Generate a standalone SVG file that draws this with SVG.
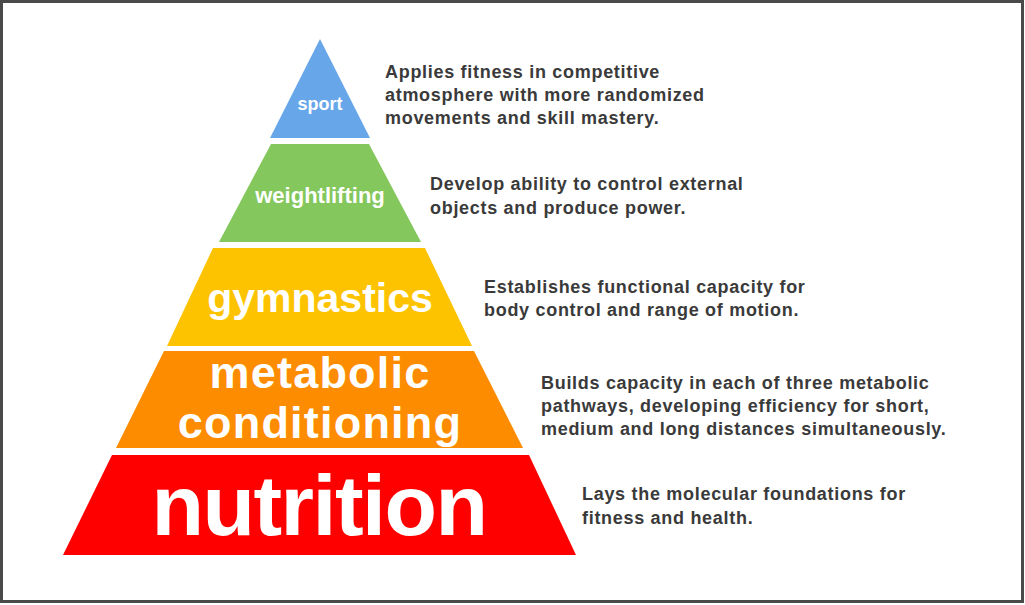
<svg xmlns="http://www.w3.org/2000/svg" width="1025" height="605" viewBox="0 0 1025 605">
<style>
.lbl{font-family:"Liberation Sans",Arial,Helvetica,sans-serif;font-weight:bold;fill:#ffffff;text-anchor:middle}
.desc{font-family:"Liberation Sans",Arial,Helvetica,sans-serif;font-weight:bold;font-size:18px;fill:#3a3a3a;letter-spacing:0.7px}
</style>
<rect x="0" y="0" width="1025" height="605" fill="#ffffff"/>
<rect x="1.5" y="1.5" width="1021" height="600" fill="none" stroke="#4a4a4a" stroke-width="3"/>
<g id="sport">
<polygon points="320,39 370,138 270,138" fill="#68a6ea"/>
<text class="lbl" x="320" y="110" font-size="18">sport</text>
<text class="desc" x="385" y="78">Applies fitness in competitive</text>
<text class="desc" x="385" y="101">atmosphere with more randomized</text>
<text class="desc" x="385" y="124">movements and skill mastery.</text>
</g>
<g id="weightlifting">
<polygon points="271,144 369,144 421,242 219,242" fill="#84c75c"/>
<text class="lbl" x="320" y="203" font-size="22">weightlifting</text>
<text class="desc" x="430" y="190">Develop ability to control external</text>
<text class="desc" x="430" y="214">objects and produce power.</text>
</g>
<g id="gymnastics">
<polygon points="213,248 425,248 472,346 167,346" fill="#fdc300"/>
<text class="lbl" x="320" y="312" font-size="41">gymnastics</text>
<text class="desc" x="484" y="293">Establishes functional capacity for</text>
<text class="desc" x="484" y="316">body control and range of motion.</text>
</g>
<g id="metabolic-conditioning">
<polygon points="164,351 474,351 523,448 116,448" fill="#fd8c00"/>
<text class="lbl" font-size="45" letter-spacing="1.2"><tspan x="320" y="387.5">metabolic</tspan><tspan x="320" y="438">conditioning</tspan></text>
<text class="desc" x="541" y="389">Builds capacity in each of three metabolic</text>
<text class="desc" x="541" y="412">pathways, developing efficiency for short,</text>
<text class="desc" x="541" y="435">medium and long distances simultaneously.</text>
</g>
<g id="nutrition">
<polygon points="112,455 529,455 576,555 63,555" fill="#fe0000"/>
<text class="lbl" x="319" y="535" font-size="86" letter-spacing="-1.5">nutrition</text>
<text class="desc" x="582" y="500">Lays the molecular foundations for</text>
<text class="desc" x="582" y="524">fitness and health.</text>
</g>
<g id="connectors"></g>
</svg>
